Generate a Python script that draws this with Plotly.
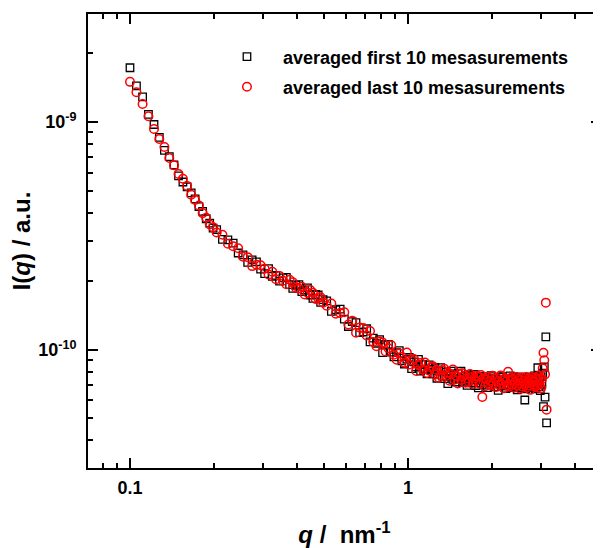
import plotly.graph_objects as go

# scattering vector q (nm^-1)
q = [0.1000, 0.1055, 0.1110, 0.1165, 0.1220, 0.1275, 0.1330, 0.1385, 0.1440, 0.1495,
     0.1550, 0.1605, 0.1660, 0.1715, 0.1770, 0.1825, 0.1880, 0.1935, 0.1990,
     0.205, 0.215, 0.225, 0.235, 0.245, 0.255, 0.265, 0.275, 0.285, 0.295,
     0.305, 0.315, 0.325, 0.335, 0.345, 0.355, 0.365, 0.375, 0.385, 0.395,
     0.405, 0.415, 0.425, 0.435, 0.445, 0.455, 0.465, 0.475, 0.485, 0.495,
     0.51, 0.53, 0.55, 0.57, 0.59, 0.61, 0.63, 0.65, 0.67, 0.69,
     0.71, 0.73, 0.75, 0.77, 0.79, 0.81, 0.83, 0.85, 0.87, 0.89,
     0.91, 0.93, 0.95, 0.97, 0.99, 1.01, 1.03, 1.05, 1.07, 1.09,
     1.11, 1.13, 1.15, 1.17, 1.19, 1.21, 1.23, 1.25, 1.27, 1.29,
     1.31, 1.33, 1.35, 1.37, 1.39, 1.41, 1.43, 1.45, 1.47, 1.49,
     1.51, 1.53, 1.55, 1.57, 1.59, 1.61, 1.63, 1.65, 1.67, 1.69,
     1.71, 1.73, 1.75, 1.77, 1.79, 1.81, 1.83, 1.85, 1.87, 1.89,
     1.91, 1.93, 1.95, 1.97, 1.99, 2.01, 2.03, 2.05, 2.07, 2.09,
     2.11, 2.13, 2.15, 2.17, 2.19, 2.21, 2.23, 2.25, 2.27, 2.29,
     2.31, 2.33, 2.35, 2.37, 2.39, 2.41, 2.43, 2.45, 2.47, 2.49,
     2.51, 2.53, 2.55, 2.57, 2.59, 2.61, 2.63, 2.65, 2.67, 2.69,
     2.71, 2.73, 2.75, 2.77, 2.79, 2.81, 2.83, 2.85, 2.87, 2.89,
     2.91, 2.93, 2.95, 2.97, 2.99, 3.01, 3.03, 3.05, 3.07, 3.09,
     3.11, 3.13, 3.15]

# intensities in units of 1e-10 a.u.
I_first_1e10 = [17.3, 14.4, 12.9, 10.8, 9.75, 8.55, 7.50, 7.05, 6.48, 5.80,
                5.45, 5.19, 4.88, 4.60, 4.25, 4.05, 3.76, 3.60, 3.42,
                3.37, 3.05, 3.04, 2.94, 2.66, 2.61, 2.42, 2.48, 2.43, 2.26,
                2.16, 2.27, 2.10, 2.12, 2.00, 2.07, 2.08, 1.93, 1.86, 1.92,
                1.93, 1.80, 1.83, 1.87, 1.74, 1.68, 1.75, 1.74, 1.615, 1.66,
                1.640, 1.474, 1.499, 1.509, 1.362, 1.265, 1.329, 1.315, 1.189, 1.197,
                1.237, 1.083, 1.125, 1.068, 1.109, 0.971, 1.055, 1.055, 0.977, 0.931,
                0.972, 0.992, 0.895, 0.866, 0.909, 0.925, 0.826, 0.885, 0.842, 0.908,
                0.807, 0.860, 0.821, 0.783, 0.859, 0.821, 0.783, 0.834, 0.750, 0.809,
                0.835, 0.767, 0.747, 0.798, 0.710, 0.778, 0.806, 0.742, 0.777, 0.722,
                0.787, 0.747, 0.805, 0.720, 0.733, 0.768, 0.698, 0.778, 0.739, 0.716,
                0.752, 0.779, 0.697, 0.740, 0.681, 0.760, 0.715, 0.751, 0.699, 0.764,
                0.734, 0.682, 0.741, 0.703, 0.769, 0.718, 0.753, 0.688, 0.745, 0.709,
                0.664, 0.758, 0.735, 0.692, 0.763, 0.698, 0.727, 0.676, 0.748, 0.705,
                0.740, 0.768, 0.682, 0.725, 0.695, 0.753, 0.688, 0.731, 0.667, 0.739,
                0.760, 0.703, 0.681, 0.746, 0.724, 0.695, 0.602, 0.674, 0.731, 0.739,
                0.688, 0.760, 0.703, 0.681, 0.724, 0.746, 0.695, 0.767, 0.674, 0.731,
                0.710, 0.834, 0.689, 0.741, 0.662, 0.763, 0.707, 0.790, 0.563, 0.840,
                0.620, 1.140, 0.478]

I_last_1e10 = [15.0, 13.5, 12.0, 10.6, 9.31, 8.42, 7.77, 6.95, 6.45, 5.91,
               5.63, 5.24, 4.79, 4.55, 4.30, 3.98, 3.80, 3.55, 3.45,
               3.27, 3.20, 2.92, 2.85, 2.79, 2.56, 2.55, 2.33, 2.36, 2.35,
               2.27, 2.14, 2.20, 2.04, 2.11, 2.01, 1.94, 2.03, 1.98, 1.87,
               1.86, 1.89, 1.75, 1.78, 1.83, 1.78, 1.67, 1.69, 1.70, 1.61,
               1.560, 1.596, 1.439, 1.451, 1.460, 1.292, 1.342, 1.188, 1.251, 1.245,
               1.155, 1.208, 1.081, 1.036, 1.087, 1.075, 0.983, 1.015, 1.046, 0.951,
               0.905, 0.964, 0.932, 0.876, 0.972, 0.862, 0.897, 0.911, 0.807, 0.857,
               0.875, 0.818, 0.879, 0.791, 0.810, 0.837, 0.847, 0.778, 0.814, 0.753,
               0.772, 0.814, 0.825, 0.767, 0.795, 0.732, 0.783, 0.819, 0.739, 0.768,
               0.712, 0.785, 0.737, 0.788, 0.770, 0.716, 0.750, 0.726, 0.783, 0.760,
               0.708, 0.750, 0.727, 0.770, 0.761, 0.709, 0.774, 0.620, 0.750, 0.692,
               0.742, 0.762, 0.704, 0.732, 0.696, 0.769, 0.710, 0.746, 0.687, 0.752,
               0.729, 0.700, 0.771, 0.707, 0.734, 0.677, 0.749, 0.726, 0.697, 0.800,
               0.689, 0.732, 0.754, 0.704, 0.739, 0.681, 0.724, 0.760, 0.695, 0.746,
               0.710, 0.674, 0.739, 0.753, 0.688, 0.731, 0.703, 0.760, 0.681, 0.724,
               0.746, 0.695, 0.667, 0.739, 0.760, 0.703, 0.724, 0.688, 0.753, 0.695,
               0.739, 0.682, 0.768, 0.705, 0.749, 0.677, 0.743, 0.830, 0.970, 0.900,
               0.780, 1.610, 0.546]

series_names = ["averaged first 10 mesasurements", "averaged last 10 mesasurements"]

x_major = [0.1, 1]
x_major_text = ["0.1", "1"]
x_minor = [0.08, 0.09, 0.2, 0.3, 0.4, 0.5, 0.6, 0.7, 0.8, 0.9, 2, 3, 4]
y_major = [1e-10, 1e-9]
y_major_text = ["10<sup>-10</sup>", "10<sup>-9</sup>"]
y_minor = [4e-11, 5e-11, 6e-11, 7e-11, 8e-11, 9e-11,
           2e-10, 3e-10, 4e-10, 5e-10, 6e-10, 7e-10, 8e-10, 9e-10, 2e-9]

UNIT = 1e-10
I_first = [v * UNIT for v in I_first_1e10]
I_last = [v * UNIT for v in I_last_1e10]

FONT = "Liberation Sans"

fig = go.Figure()
fig.add_trace(go.Scatter(
    x=q, y=I_first, mode="markers", name=series_names[0], legend="legend",
    marker=dict(symbol="square-open", size=7.5, color="black", line=dict(width=1.3, color="black"))))
fig.add_trace(go.Scatter(
    x=q, y=I_last, mode="markers", name=series_names[1], legend="legend2",
    marker=dict(symbol="circle-open", size=8.5, color="red", line=dict(width=1.5, color="red"))))

axis_common = dict(
    type="log", showgrid=False, zeroline=False, automargin=False,
    ticks="inside", ticklen=10, tickwidth=2, tickcolor="black",
    linecolor="black", linewidth=2, showline=True, mirror="ticks",
    tickfont=dict(family=FONT, size=18, color="black", weight="bold"),
)

legend_common = dict(xanchor="left", yanchor="middle", bgcolor="rgba(0,0,0,0)",
                     itemwidth=62, borderwidth=0,
                     font=dict(family=FONT, size=18, color="black", weight="bold"))

# the page body adds an 8 px offset, so the figure is 593x540
fig.update_layout(
    width=593, height=540,
    margin=dict(l=80, r=0, t=6, b=80, autoexpand=False),
    paper_bgcolor="white", plot_bgcolor="white",
    xaxis=dict(
        **axis_common, range=[-1.151, 0.694],
        ticklabelstandoff=2,
        tickmode="array", tickvals=x_major, ticktext=x_major_text,
        minor=dict(tickmode="array", tickvals=x_minor, ticks="inside", ticklen=5,
                   tickwidth=2, tickcolor="black", showgrid=False),
        title=dict(text="<b><i>q</i> /\u00a0 nm<sup>-1</sup></b>",
                   font=dict(family=FONT, size=24, color="black"), standoff=32),
    ),
    yaxis=dict(
        **axis_common, range=[-10.519, -8.526],
        ticklabelstandoff=6,
        tickmode="array", tickvals=y_major, ticktext=y_major_text,
        minor=dict(tickmode="array", tickvals=y_minor, ticks="inside", ticklen=5,
                   tickwidth=2, tickcolor="black", showgrid=False),
        title=dict(text="<b>I(<i>q</i>) / a.u.</b>",
                   font=dict(family=FONT, size=24, color="black"), standoff=8),
    ),
    legend=dict(x=0.2397, y=0.9053, **legend_common),
    legend2=dict(x=0.2397, y=0.839, **legend_common),
    showlegend=True,
)

fig.write_html("out.html")
